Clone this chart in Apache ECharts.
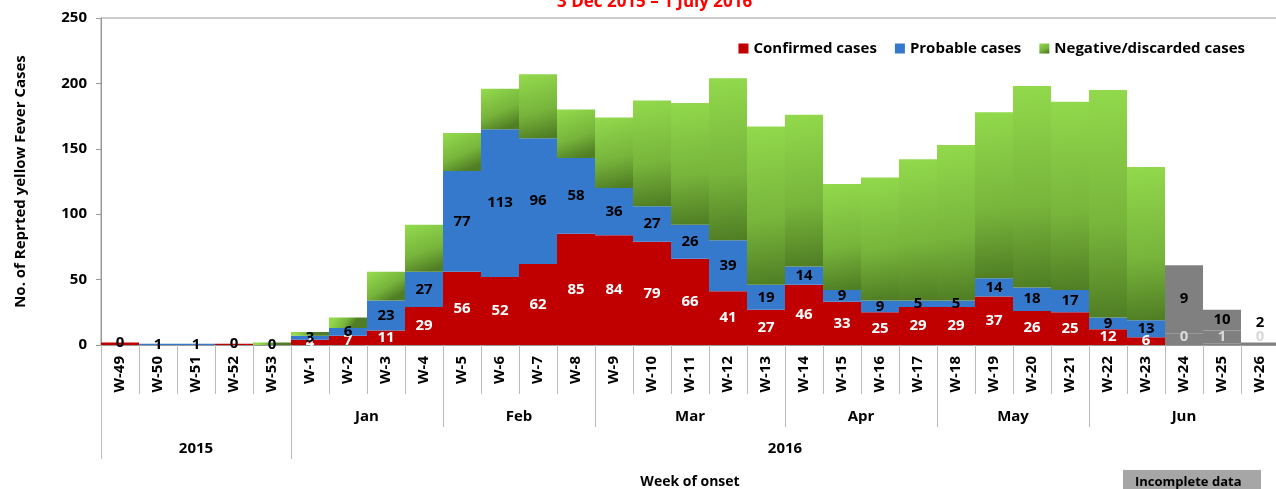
<!DOCTYPE html>
<html>
<head>
<meta charset="utf-8">
<script src="https://cdn.jsdelivr.net/npm/echarts@6/dist/echarts.min.js"></script>
<style>
  html, body { margin: 0; padding: 0; background: #fff; }
  #chart { width: 1276px; height: 489px; }
</style>
</head>
<body>
<div id="chart"></div>
<script>
// semaines d'apparition (2015 puis 2016)
var weeks = ['W-49', 'W-50', 'W-51', 'W-52', 'W-53',
    'W-1', 'W-2', 'W-3', 'W-4', 'W-5', 'W-6', 'W-7', 'W-8', 'W-9', 'W-10',
    'W-11', 'W-12', 'W-13', 'W-14', 'W-15', 'W-16', 'W-17', 'W-18', 'W-19', 'W-20',
    'W-21', 'W-22', 'W-23', 'W-24', 'W-25', 'W-26'];
var confirmed = [2, 0, 0, 1, 0,
    4, 7, 11, 29, 56, 52, 62, 85, 84, 79,
    66, 41, 27, 46, 33, 25, 29, 29, 37, 26,
    25, 12, 6, 0, 1, 0];
var probable = [0, 1, 1, 0, 0,
    3, 6, 23, 27, 77, 113, 96, 58, 36, 27,
    26, 39, 19, 14, 9, 9, 5, 5, 14, 18,
    17, 9, 13, 9, 10, 2];
var negative = [0, 0, 0, 0, 2,
    3, 8, 22, 36, 29, 31, 49, 37, 54, 81,
    93, 124, 121, 116, 81, 94, 108, 119, 127, 154,
    144, 174, 117, 52, 16, 0];
// semaines incompletes (en gris)
var incompleteWeeks = ['W-24', 'W-25', 'W-26'];

var yearNames = ['2015', '2016'];
var yearWeekCounts = [5, 26];
var monthNames = ['Jan', 'Feb', 'Mar', 'Apr', 'May', 'Jun'];
var monthWeekCounts = [4, 4, 5, 4, 4, 5];

var font = "'Open Sans', 'Liberation Sans', sans-serif";
var GRAY = '#808080';

function isIncomplete(i) {
    return incompleteWeeks.indexOf(weeks[i]) >= 0;
}

// limites et centres des mois / annees sur l'axe
var yearBounds = [-0.5], yearCenters = [], yearLabelMap = {};
var pos = -0.5;
yearWeekCounts.forEach(function (n, k) {
    var c = pos + n / 2;
    yearCenters.push(c);
    yearLabelMap[String(c)] = yearNames[k];
    pos += n;
    yearBounds.push(pos);
});
var monthBounds = [], monthCenters = [], monthLabelMap = {};
pos = -0.5 + yearWeekCounts[0];
monthWeekCounts.forEach(function (n, k) {
    var c = pos + n / 2;
    monthCenters.push(c);
    monthLabelMap[String(c)] = monthNames[k];
    pos += n;
    monthBounds.push(pos);
});

var greenFill = new echarts.graphic.LinearGradient(0.15, 0, 0.6, 1, [
    {offset: 0, color: '#92d94c'},
    {offset: 0.6, color: '#77b43b'},
    {offset: 1, color: '#507e24'}
]);

var confirmedData = confirmed.map(function (v, i) {
    if (isIncomplete(i)) {
        return {value: v, itemStyle: {color: GRAY},
            label: {show: true, position: 'insideBottom', distance: 1, color: '#d9d9d9'}};
    }
    return {value: v, label: {show: v >= 3}};
});
var probableData = probable.map(function (v, i) {
    if (isIncomplete(i)) {
        return {value: v, itemStyle: {color: GRAY}, label: {show: false}};
    }
    return v;
});
var negativeData = negative.map(function (v, i) {
    if (isIncomplete(i)) {
        return {value: v, itemStyle: {color: GRAY},
            label: {show: true, formatter: String(probable[i]),
                position: v > 0 ? 'inside' : 'top', distance: 12, color: '#000'}};
    }
    return v;
});

var labelBase = {fontFamily: font, fontWeight: 'bold', fontSize: 15};

var chart = echarts.init(document.getElementById('chart'));
chart.setOption({
    animation: false,
    textStyle: {fontFamily: font},
    title: {
        text: '3 Dec 2015 \u2013 1 July 2016',
        left: 552, top: -11,
        textStyle: {color: '#ff0000', fontWeight: 'bold', fontSize: 17, fontFamily: font}
    },
    legend: {
        right: 26, top: 36,
        itemWidth: 10, itemHeight: 10, itemGap: 18,
        icon: 'rect',
        textStyle: {fontFamily: font, fontWeight: 'bold', fontSize: 15, color: '#000'},
        data: ['Confirmed cases', 'Probable cases', 'Negative/discarded cases']
    },
    grid: {
        left: 101, top: 18, right: -3, bottom: 144,
        outerBoundsMode: 'none',
        show: true, borderColor: '#999', borderWidth: 1
    },
    yAxis: {
        type: 'value', min: 0, max: 250, interval: 50,
        name: 'No. of Reprted yellow Fever Cases',
        nameLocation: 'middle', nameGap: 73, nameRotate: 90,
        nameTextStyle: {fontFamily: font, fontWeight: 'bold', fontSize: 15, color: '#000'},
        axisLine: {show: true, onZero: false, lineStyle: {color: '#999'}},
        axisTick: {show: true, length: 5, lineStyle: {color: '#999'}},
        splitLine: {show: false},
        axisLabel: {margin: 14, fontFamily: font, fontWeight: 'bold', fontSize: 15, color: '#000'}
    },
    xAxis: [{
        type: 'category', data: weeks, position: 'bottom',
        axisLine: {show: true, lineStyle: {color: '#999'}},
        axisTick: {show: true, interval: 0, length: 49, alignWithLabel: false, lineStyle: {color: '#bbb'}},
        axisLabel: {interval: 0, rotate: 90, margin: 11, fontFamily: font, fontWeight: 'bold', fontSize: 15, color: '#000'}
    }, {
        // mois
        type: 'value', min: -0.5, max: weeks.length - 0.5, position: 'bottom',
        axisLine: {show: false},
        splitLine: {show: false},
        axisTick: {show: true, customValues: monthBounds, length: 82, lineStyle: {color: '#bbb'}},
        axisLabel: {
            customValues: monthCenters, margin: 64,
            fontFamily: font, fontWeight: 'bold', fontSize: 15, color: '#000',
            formatter: function (v) { return monthLabelMap[String(v)] || ''; }
        }
    }, {
        // annees
        type: 'value', min: -0.5, max: weeks.length - 0.5, position: 'bottom',
        axisLine: {show: false},
        splitLine: {show: false},
        axisTick: {show: true, customValues: yearBounds, length: 114, lineStyle: {color: '#bbb'}},
        axisLabel: {
            customValues: yearCenters, margin: 96,
            fontFamily: font, fontWeight: 'bold', fontSize: 15, color: '#000',
            formatter: function (v) { return yearLabelMap[String(v)] || ''; }
        },
        name: 'Week of onset', nameLocation: 'middle', nameGap: 130,
        nameTextStyle: {fontFamily: font, fontWeight: 'bold', fontSize: 14, color: '#000'}
    }],
    graphic: [{
        type: 'rect', left: 1123, top: 470,
        shape: {width: 138, height: 26},
        style: {fill: '#a6a6a6'}
    }, {
        type: 'text', left: 1135, top: 476,
        style: {text: 'Incomplete data', fill: '#000', font: 'bold 13px ' + font}
    }],
    series: [{
        name: 'Confirmed cases', type: 'bar', stack: 'total',
        barCategoryGap: '0%',
        itemStyle: {color: '#c00000'},
        label: Object.assign({show: true, position: 'inside', color: '#fff'}, labelBase),
        data: confirmedData
    }, {
        name: 'Probable cases', type: 'bar', stack: 'total',
        barCategoryGap: '0%',
        itemStyle: {color: '#3579cc'},
        label: Object.assign({show: true, position: 'inside', color: '#000'}, labelBase),
        data: probableData
    }, {
        name: 'Negative/discarded cases', type: 'bar', stack: 'total',
        barCategoryGap: '0%',
        itemStyle: {color: greenFill},
        label: Object.assign({show: false}, labelBase),
        data: negativeData
    }]
});
</script>
</body>
</html>
